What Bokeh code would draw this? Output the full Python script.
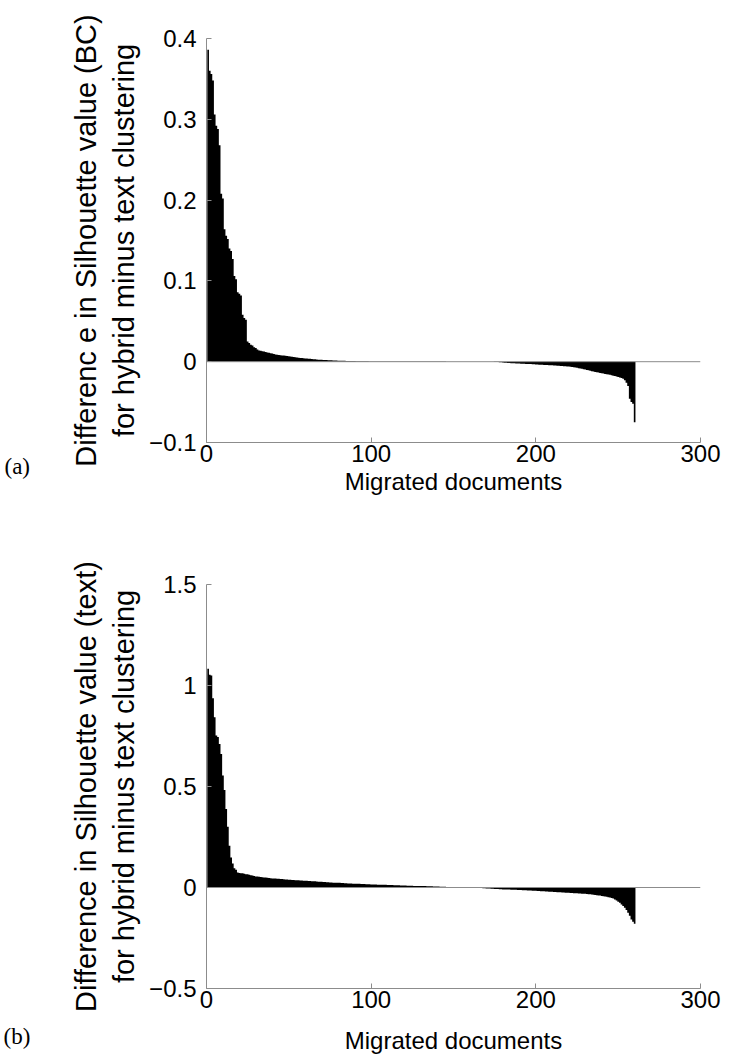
from bokeh.plotting import figure
from bokeh.models import Range1d, FixedTicker, CustomJSTickFormatter, Span, Label
from bokeh.layouts import column
from bokeh.embed import file_html
from bokeh.resources import INLINE

# ---------------- data ----------------
documents = list(range(1, 261))

diff_bc = [
    0.386, 0.360, 0.356, 0.348, 0.306, 0.292, 0.288, 0.268, 0.208, 0.202,
    0.164, 0.156, 0.152, 0.140, 0.137, 0.127, 0.106, 0.102, 0.086, 0.084,
    0.082, 0.058, 0.054, 0.052, 0.025, 0.023, 0.021, 0.020, 0.018, 0.017,
    0.015, 0.014, 0.0135, 0.013, 0.0125, 0.012, 0.0115, 0.011, 0.0105, 0.010,
    0.0095, 0.0090, 0.0087, 0.0084, 0.0081, 0.0078, 0.0076, 0.0074, 0.0071, 0.0068,
    0.0065, 0.0062, 0.0059, 0.0056, 0.0053, 0.0050, 0.0047, 0.0045, 0.0043, 0.0041,
    0.0039, 0.0037, 0.0035, 0.0033, 0.0031, 0.0029, 0.0027, 0.0025, 0.0024, 0.0023,
    0.0022, 0.0021, 0.0020, 0.0019, 0.0018, 0.0017, 0.0016, 0.0015, 0.0014, 0.0013,
    0.0013, 0.0012, 0.0011, 0.0011, 0.0010, 0.0010, 0.0009, 0.0009, 0.0008, 0.0008,
    0.0007, 0.0007, 0.0006, 0.0006, 0.0005, 0.0005, 0.0005, 0.0005, 0.0004, 0.0004,
    0.0004, 0.0004, 0.0004, 0.0003, 0.0003, 0.0003, 0.0003, 0.0003, 0.0003, 0.0002,
    0.0002, 0.0002, 0.0002, 0.0002, 0.0002, 0.0002, 0.0002, 0.0002, 0.0002, 0.0002,
    0.0002, 0.0002, 0.0002, 0.0002, 0.0001, 0.0001, 0.0001, 0.0001, 0.0001, 0.0001,
    0.0001, 0.0001, 0.0001, 0.0001, 0.0001, 0.0001, 0.0001, 0.0001, 0.0001, 0.0001,
    0.0001, 0.0001, 0.0001, 0.0001, 0.0001, 0.0000, 0.0000, 0.0000, 0.0000, 0.0000,
    0.0000, 0.0000, 0.0000, 0.0000, 0.0000, 0.0000, 0.0000, 0.0000, 0.0000, -0.0001,
    -0.0001, -0.0001, -0.0001, -0.0001, -0.0001, -0.0001, -0.0001, -0.0001, -0.0001, -0.0001,
    -0.0001, -0.0001, -0.0002, -0.0002, -0.0003, -0.0004, -0.0005, -0.0006, -0.0008, -0.0010,
    -0.0012, -0.0014, -0.0016, -0.0017, -0.0018, -0.0019, -0.0020, -0.0021, -0.0022, -0.0023,
    -0.0024, -0.0025, -0.0026, -0.0027, -0.0028, -0.0029, -0.0030, -0.0031, -0.0032, -0.0034,
    -0.0036, -0.0037, -0.0038, -0.0039, -0.0040, -0.0041, -0.0042, -0.0043, -0.0044, -0.0045,
    -0.0046, -0.0047, -0.0049, -0.0051, -0.0052, -0.0054, -0.0055, -0.0056, -0.0058, -0.0060,
    -0.0062, -0.0065, -0.0068, -0.0072, -0.0076, -0.0080, -0.0084, -0.0088, -0.0092, -0.0097,
    -0.0102, -0.0107, -0.0112, -0.0117, -0.0122, -0.0127, -0.0131, -0.0135, -0.0139, -0.0143,
    -0.0147, -0.0151, -0.0155, -0.0159, -0.0163, -0.0168, -0.0173, -0.0178, -0.0184, -0.0190,
    -0.0196, -0.0203, -0.0210, -0.0230, -0.0260, -0.0300, -0.0460, -0.0500, -0.0520, -0.0750,
]

diff_text = [
    1.083, 1.053, 1.050, 0.937, 0.843, 0.752, 0.745, 0.711, 0.661, 0.554,
    0.483, 0.389, 0.301, 0.207, 0.149, 0.119, 0.095, 0.088, 0.074, 0.072,
    0.071, 0.070, 0.068, 0.066, 0.065, 0.063, 0.061, 0.059, 0.057, 0.055,
    0.054, 0.053, 0.052, 0.051, 0.050, 0.049, 0.048, 0.047, 0.046, 0.045,
    0.0445, 0.044, 0.0435, 0.043, 0.0425, 0.042, 0.041, 0.040, 0.039, 0.0385,
    0.038, 0.0375, 0.037, 0.0365, 0.036, 0.0355, 0.035, 0.0345, 0.034, 0.0335,
    0.033, 0.0325, 0.032, 0.0315, 0.031, 0.031, 0.030, 0.029, 0.028, 0.028,
    0.027, 0.027, 0.026, 0.026, 0.025, 0.025, 0.024, 0.024, 0.023, 0.023,
    0.023, 0.022, 0.022, 0.021, 0.021, 0.020, 0.020, 0.020, 0.019, 0.019,
    0.018, 0.018, 0.018, 0.017, 0.017, 0.017, 0.016, 0.016, 0.016, 0.015,
    0.015, 0.015, 0.015, 0.014, 0.014, 0.014, 0.013, 0.013, 0.013, 0.012,
    0.012, 0.012, 0.012, 0.011, 0.011, 0.011, 0.011, 0.010, 0.010, 0.010,
    0.010, 0.009, 0.009, 0.009, 0.009, 0.008, 0.008, 0.008, 0.008, 0.007,
    0.007, 0.007, 0.007, 0.006, 0.006, 0.006, 0.006, 0.005, 0.005, 0.005,
    0.005, 0.004, 0.004, 0.004, 0.004, 0.003, 0.003, 0.003, 0.003, 0.002,
    0.002, 0.002, 0.002, 0.002, 0.001, 0.001, 0.001, 0.001, 0.0005, 0.0003,
    0.0001, -0.0005, -0.001, -0.0015, -0.002, -0.0025, -0.003, -0.0035, -0.004, -0.0045,
    -0.005, -0.0055, -0.006, -0.0065, -0.007, -0.0075, -0.008, -0.0085, -0.009, -0.0093,
    -0.0096, -0.0099, -0.0102, -0.0105, -0.0108, -0.0111, -0.0114, -0.0117, -0.012, -0.0124,
    -0.0128, -0.0132, -0.0136, -0.014, -0.0144, -0.0148, -0.0152, -0.0156, -0.016, -0.0165,
    -0.017, -0.0175, -0.018, -0.0185, -0.019, -0.0195, -0.020, -0.0205, -0.021, -0.0215,
    -0.022, -0.0225, -0.023, -0.0235, -0.024, -0.0245, -0.025, -0.0255, -0.026, -0.0265,
    -0.027, -0.0275, -0.028, -0.0285, -0.029, -0.0295, -0.030, -0.0305, -0.031, -0.0315,
    -0.032, -0.033, -0.034, -0.035, -0.036, -0.037, -0.038, -0.039, -0.040, -0.042,
    -0.043, -0.044, -0.046, -0.048, -0.050, -0.052, -0.055, -0.060, -0.064, -0.070,
    -0.076, -0.084, -0.092, -0.100, -0.112, -0.125, -0.140, -0.158, -0.170, -0.180,
]

x_ticks = [0, 100, 200, 300]
y_ticks_a = [-0.1, 0, 0.1, 0.2, 0.3, 0.4]
y_ticks_b = [-0.5, 0, 0.5, 1, 1.5]
title_a = "Differenc e in Silhouette value (BC)\nfor hybrid minus text clustering"
title_b = "Difference in Silhouette value (text)\nfor hybrid minus text clustering"
x_title = "Migrated documents"

AXIS_COLOR = "#8c8c8c"
FONT = "Liberation Sans"

fmt = CustomJSTickFormatter(code="return (tick < 0 ? '\\u2212' : '') + Math.abs(tick).toString();")


def make_panel(values, ylo, yhi, yticks, ytitle, tag, tag_sx, tag_sy, xlab_standoff,
               height, b_top, b_bottom, b_left, b_right):
    p = figure(width=728, height=height, output_backend="svg", toolbar_location=None,
               x_range=Range1d(0, 300), y_range=Range1d(ylo, yhi),
               min_border_top=b_top, min_border_bottom=b_bottom,
               min_border_left=b_left, min_border_right=b_right)
    p.outline_line_color = None
    p.grid.visible = False
    p.background_fill_color = "white"
    p.border_fill_color = "white"

    # one bar per document (width 1): drawn as a single stepped area, so no seams
    edges = [d - 0.5 for d in documents] + [documents[-1] + 0.5]
    heights = list(values) + [values[-1]]
    p.varea_step(x=edges, y1=[0] * len(edges), y2=heights, step_mode="after",
                 fill_color="black")

    p.add_layout(Span(location=0, dimension="width", line_color=AXIS_COLOR, line_width=1))

    for ax in (p.xaxis[0], p.yaxis[0]):
        ax.axis_line_color = AXIS_COLOR
        ax.axis_line_width = 1
        ax.major_tick_line_color = AXIS_COLOR
        ax.major_tick_in = 5
        ax.major_tick_out = 0
        ax.minor_tick_line_color = None
        ax.major_label_text_font = FONT
        ax.major_label_text_font_size = "24px"
        ax.major_label_text_color = "black"
        ax.axis_label_text_font = FONT
        ax.axis_label_text_font_style = "normal"
        ax.axis_label_text_color = "black"

    p.xaxis.axis_label_text_font_size = "24px"
    p.yaxis.axis_label_text_font_size = "29px"
    p.xaxis.ticker = FixedTicker(ticks=x_ticks)
    p.yaxis.ticker = FixedTicker(ticks=yticks)
    p.yaxis.formatter = fmt
    p.xaxis.major_label_standoff = 2
    p.yaxis.major_label_standoff = 10
    p.xaxis.axis_label = x_title
    p.xaxis.axis_label_standoff = xlab_standoff
    p.yaxis.axis_label = ytitle
    p.yaxis.axis_label_standoff = 6

    # panel tag placed in the left side panel (outside the frame, so it is not clipped)
    p.add_layout(Label(x=tag_sx, y=tag_sy, x_units="screen", y_units="screen",
                       text=tag, text_font="Liberation Serif",
                       text_font_size="23px", text_color="black",
                       text_baseline="middle", text_align="left"), "left")
    return p


p1 = make_panel(diff_bc, -0.1, 0.4, y_ticks_a, title_a, "(a)", -36, -24, 3,
                560, 38, 118, 204, 28)
p2 = make_panel(diff_text, -0.5, 1.5, y_ticks_b, title_b, "(b)", -36, -48, 16,
                500, 24, 72, 206, 26)

layout = column(p1, p2)
open("out.html", "w").write(file_html(layout, INLINE))
